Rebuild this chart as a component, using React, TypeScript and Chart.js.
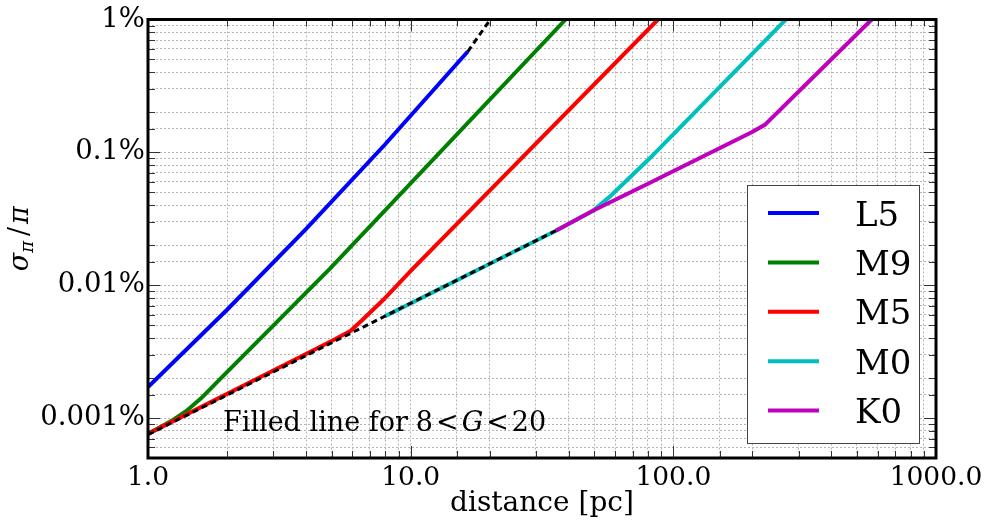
import React, { useEffect, useRef } from 'react';
import { Chart, registerables } from 'chart.js';

Chart.register(...registerables);

// ---- data (distance in pc, relative parallax error in %) ----
const starTypes = ['L5', 'M9', 'M5', 'M0', 'K0'];
const lineColors = ['#0000ff', '#008000', '#ff0000', '#00bfbf', '#bf00bf'];

const distL5 = [1, 2, 4, 8, 16.5];
const errL5 = [0.00171, 0.00653, 0.0265, 0.115, 0.574];

const distM9 = [1, 1.12, 1.25, 1.4, 1.6, 1.88, 4.93, 38.9];
const errM9 = [0.00076, 0.00086, 0.00097, 0.00113, 0.00142, 0.00196, 0.01333, 1.0];

const distM5 = [1, 3, 5.0, 5.5, 5.87, 6.5, 7.87, 10.2, 87.4];
const errM5 = [0.00076, 0.00228, 0.0038, 0.0042, 0.00449, 0.0054, 0.00776, 0.01333, 1.0];

const distM0 = [8, 35.7, 49.4, 57, 81.5, 268];
const errM0 = [0.00585, 0.0257, 0.0363, 0.046, 0.0906, 1.0];

const distK0 = [35.7, 49.4, 81.5, 198.7, 223, 569];
const errK0 = [0.0257, 0.0363, 0.059, 0.1417, 0.161, 1.0];

// dashed reference line segments
const distBright = [1, 35.7];
const errBright = [0.00075, 0.0257];
const distFaint = [16.5, 20.1];
const errFaint = [0.574, 1.0];

const xTickValues = [1, 10, 100, 1000];
const yTickValues = [0.001, 0.01, 0.1, 1];

const annotationText = 'Filled line for';
const annotationMath = ['8', '<', 'G', '<', '20'];
const xTitle = 'distance [pc]';

const toPts = (xs: number[], ys: number[]) => xs.map((x, i) => ({ x, y: ys[i] }));
const isPow10 = (v: number) => {
  const l = Math.log10(v);
  return Math.abs(l - Math.round(l)) < 1e-6;
};
const fmtPct = (v: number) => {
  const e = Math.round(Math.log10(v));
  if (e >= 0) return `${Math.pow(10, e)}%`;
  return `0.${'0'.repeat(-e - 1)}1%`;
};

const SERIF = '"DejaVu Serif", serif';

const decorPlugin = {
  id: 'decor',
  afterDatasetsDraw(chart: any) {
    const { ctx, chartArea: a, scales } = chart;
    const xs = scales.x;
    const ys = scales.y;
    ctx.save();
    // inner ticks on all four sides
    ctx.strokeStyle = '#333';
    ctx.lineWidth = 1;
    ctx.beginPath();
    for (const t of xs.ticks) {
      const px = Math.round(xs.getPixelForValue(t.value)) + 0.5;
      const len = isPow10(t.value) ? 12 : 7;
      ctx.moveTo(px, a.bottom);
      ctx.lineTo(px, a.bottom - len);
      ctx.moveTo(px, a.top);
      ctx.lineTo(px, a.top + len);
    }
    for (const t of ys.ticks) {
      const py = Math.round(ys.getPixelForValue(t.value)) + 0.5;
      const len = isPow10(t.value) ? 12 : 7;
      ctx.moveTo(a.left, py);
      ctx.lineTo(a.left + len, py);
      ctx.moveTo(a.right, py);
      ctx.lineTo(a.right - len, py);
    }
    ctx.stroke();

    // frame
    ctx.lineWidth = 3;
    ctx.strokeStyle = '#000';
    ctx.strokeRect(a.left, a.top, a.right - a.left, a.bottom - a.top);

    // annotation text
    ctx.fillStyle = '#000';
    ctx.textBaseline = 'alphabetic';
    ctx.textAlign = 'left';
    let tx = xs.getPixelForValue(1.93);
    const ty = ys.getPixelForValue(0.00081) + 1;
    ctx.font = `27px ${SERIF}`;
    ctx.fillText(annotationText, tx, ty);
    tx += ctx.measureText(annotationText).width + 8;
    for (const part of annotationMath) {
      ctx.font = part === 'G' ? `italic 27px ${SERIF}` : `27px ${SERIF}`;
      ctx.fillText(part, tx, ty);
      tx += ctx.measureText(part).width + 3;
    }

    // legend
    const bw = 172;
    const bh = 258;
    const bx = a.right - 17 - bw;
    const by = a.bottom - 15 - bh;
    ctx.fillStyle = '#fff';
    ctx.fillRect(bx, by, bw, bh);
    ctx.strokeStyle = '#444';
    ctx.lineWidth = 1;
    ctx.strokeRect(Math.round(bx) + 0.5, Math.round(by) + 0.5, bw, bh);
    const entries = chart.data.datasets.filter((d: any) => d.inLegend);
    entries.forEach((d: any, i: number) => {
      const ly = by + 28 + i * 49.4;
      ctx.strokeStyle = d.borderColor;
      ctx.lineWidth = 4;
      ctx.beginPath();
      ctx.moveTo(bx + 21, ly);
      ctx.lineTo(bx + 72, ly);
      ctx.stroke();
      ctx.fillStyle = '#000';
      ctx.font = `34px ${SERIF}`;
      ctx.fillText(d.label, bx + 108, ly + 12.5);
    });

    // x axis title
    ctx.font = `28px ${SERIF}`;
    ctx.textAlign = 'center';
    ctx.fillText(xTitle, (a.left + a.right) / 2, xs.bottom - 16);

    // y axis title: sigma_pi / pi, rotated
    const pieces = [
      { t: '\u03c3', f: `italic 27px ${SERIF}`, dy: 0, gap: 0 },
      { t: '\u03c0', f: `italic 18px ${SERIF}`, dy: 5, gap: 5 },
      { t: '/', f: `27px ${SERIF}`, dy: 0, gap: 3 },
      { t: '\u03c0', f: `italic 27px ${SERIF}`, dy: 0, gap: 0 },
    ];
    let total = 0;
    const widths = pieces.map((p) => {
      ctx.font = p.f;
      const w = ctx.measureText(p.t).width;
      total += w + p.gap;
      return w;
    });
    ctx.translate(ys.left + 28, (a.top + a.bottom) / 2);
    ctx.rotate(-Math.PI / 2);
    ctx.textAlign = 'left';
    let px = -total / 2;
    pieces.forEach((p, i) => {
      ctx.font = p.f;
      ctx.fillText(p.t, px, p.dy);
      px += widths[i] + p.gap;
    });
    ctx.restore();
  },
};

export default function App() {
  const ref = useRef<HTMLCanvasElement | null>(null);
  useEffect(() => {
    if (!ref.current) return;
    const mk = (label: string, xs: number[], ys: number[], color: string, order: number) => ({
      label,
      data: toPts(xs, ys),
      borderColor: color,
      backgroundColor: color,
      borderWidth: 4,
      pointRadius: 0,
      tension: 0,
      fill: false,
      order,
      inLegend: true,
    });
    const dashed = (label: string, xs: number[], ys: number[]) => ({
      label,
      data: toPts(xs, ys),
      borderColor: '#000',
      borderWidth: 3,
      borderDash: [6, 4],
      pointRadius: 0,
      tension: 0,
      fill: false,
      order: 0,
      inLegend: false,
    });
    const chart = new Chart(ref.current, {
      type: 'line',
      data: {
        datasets: [
          mk(starTypes[0], distL5, errL5, lineColors[0], 5),
          mk(starTypes[1], distM9, errM9, lineColors[1], 4),
          mk(starTypes[2], distM5, errM5, lineColors[2], 3),
          mk(starTypes[3], distM0, errM0, lineColors[3], 2),
          mk(starTypes[4], distK0, errK0, lineColors[4], 1),
          dashed('bright', distBright, errBright),
          dashed('faint', distFaint, errFaint),
        ] as any,
      },
      options: {
        animation: false,
        responsive: false,
        devicePixelRatio: 1,
        layout: { padding: { left: 0, right: 55, top: 17, bottom: 0 } },
        plugins: { legend: { display: false }, tooltip: { enabled: false } },
        scales: {
          x: {
            type: 'logarithmic',
            min: 1,
            max: 1000,
            afterFit: (s: any) => {
              s.height = 69;
            },
            grid: { color: '#b5b5b5', lineWidth: 1, drawTicks: false },
            border: { display: false, dash: [2, 2] },
            ticks: {
              autoSkip: false,
              maxRotation: 0,
              padding: 4,
              color: '#000',
              font: { family: SERIF, size: 26.5 },
              callback: (v: any) => (isPow10(Number(v)) && xTickValues.some((t) => Math.abs(t - Number(v)) < 1e-6) ? Number(v).toFixed(1) : ''),
            },
          },
          y: {
            type: 'logarithmic',
            min: 0.0005,
            max: 1,
            afterFit: (s: any) => {
              s.width = 148;
            },
            grid: { color: '#b5b5b5', lineWidth: 1, drawTicks: false },
            border: { display: false, dash: [2, 2] },
            ticks: {
              autoSkip: false,
              padding: 3,
              color: '#000',
              font: { family: SERIF, size: 27.5 },
              callback: (v: any) => (isPow10(Number(v)) && yTickValues.some((t) => Math.abs(t / Number(v) - 1) < 1e-6) ? fmtPct(Number(v)) : ''),
            },
          },
        },
      } as any,
      plugins: [decorPlugin],
    });
    return () => chart.destroy();
  }, []);
  return (
    <div style={{ position: 'fixed', left: 0, top: 0, width: 991, height: 527, background: '#fff' }}>
      <canvas ref={ref} width={991} height={527} style={{ display: 'block' }} />
    </div>
  );
}
